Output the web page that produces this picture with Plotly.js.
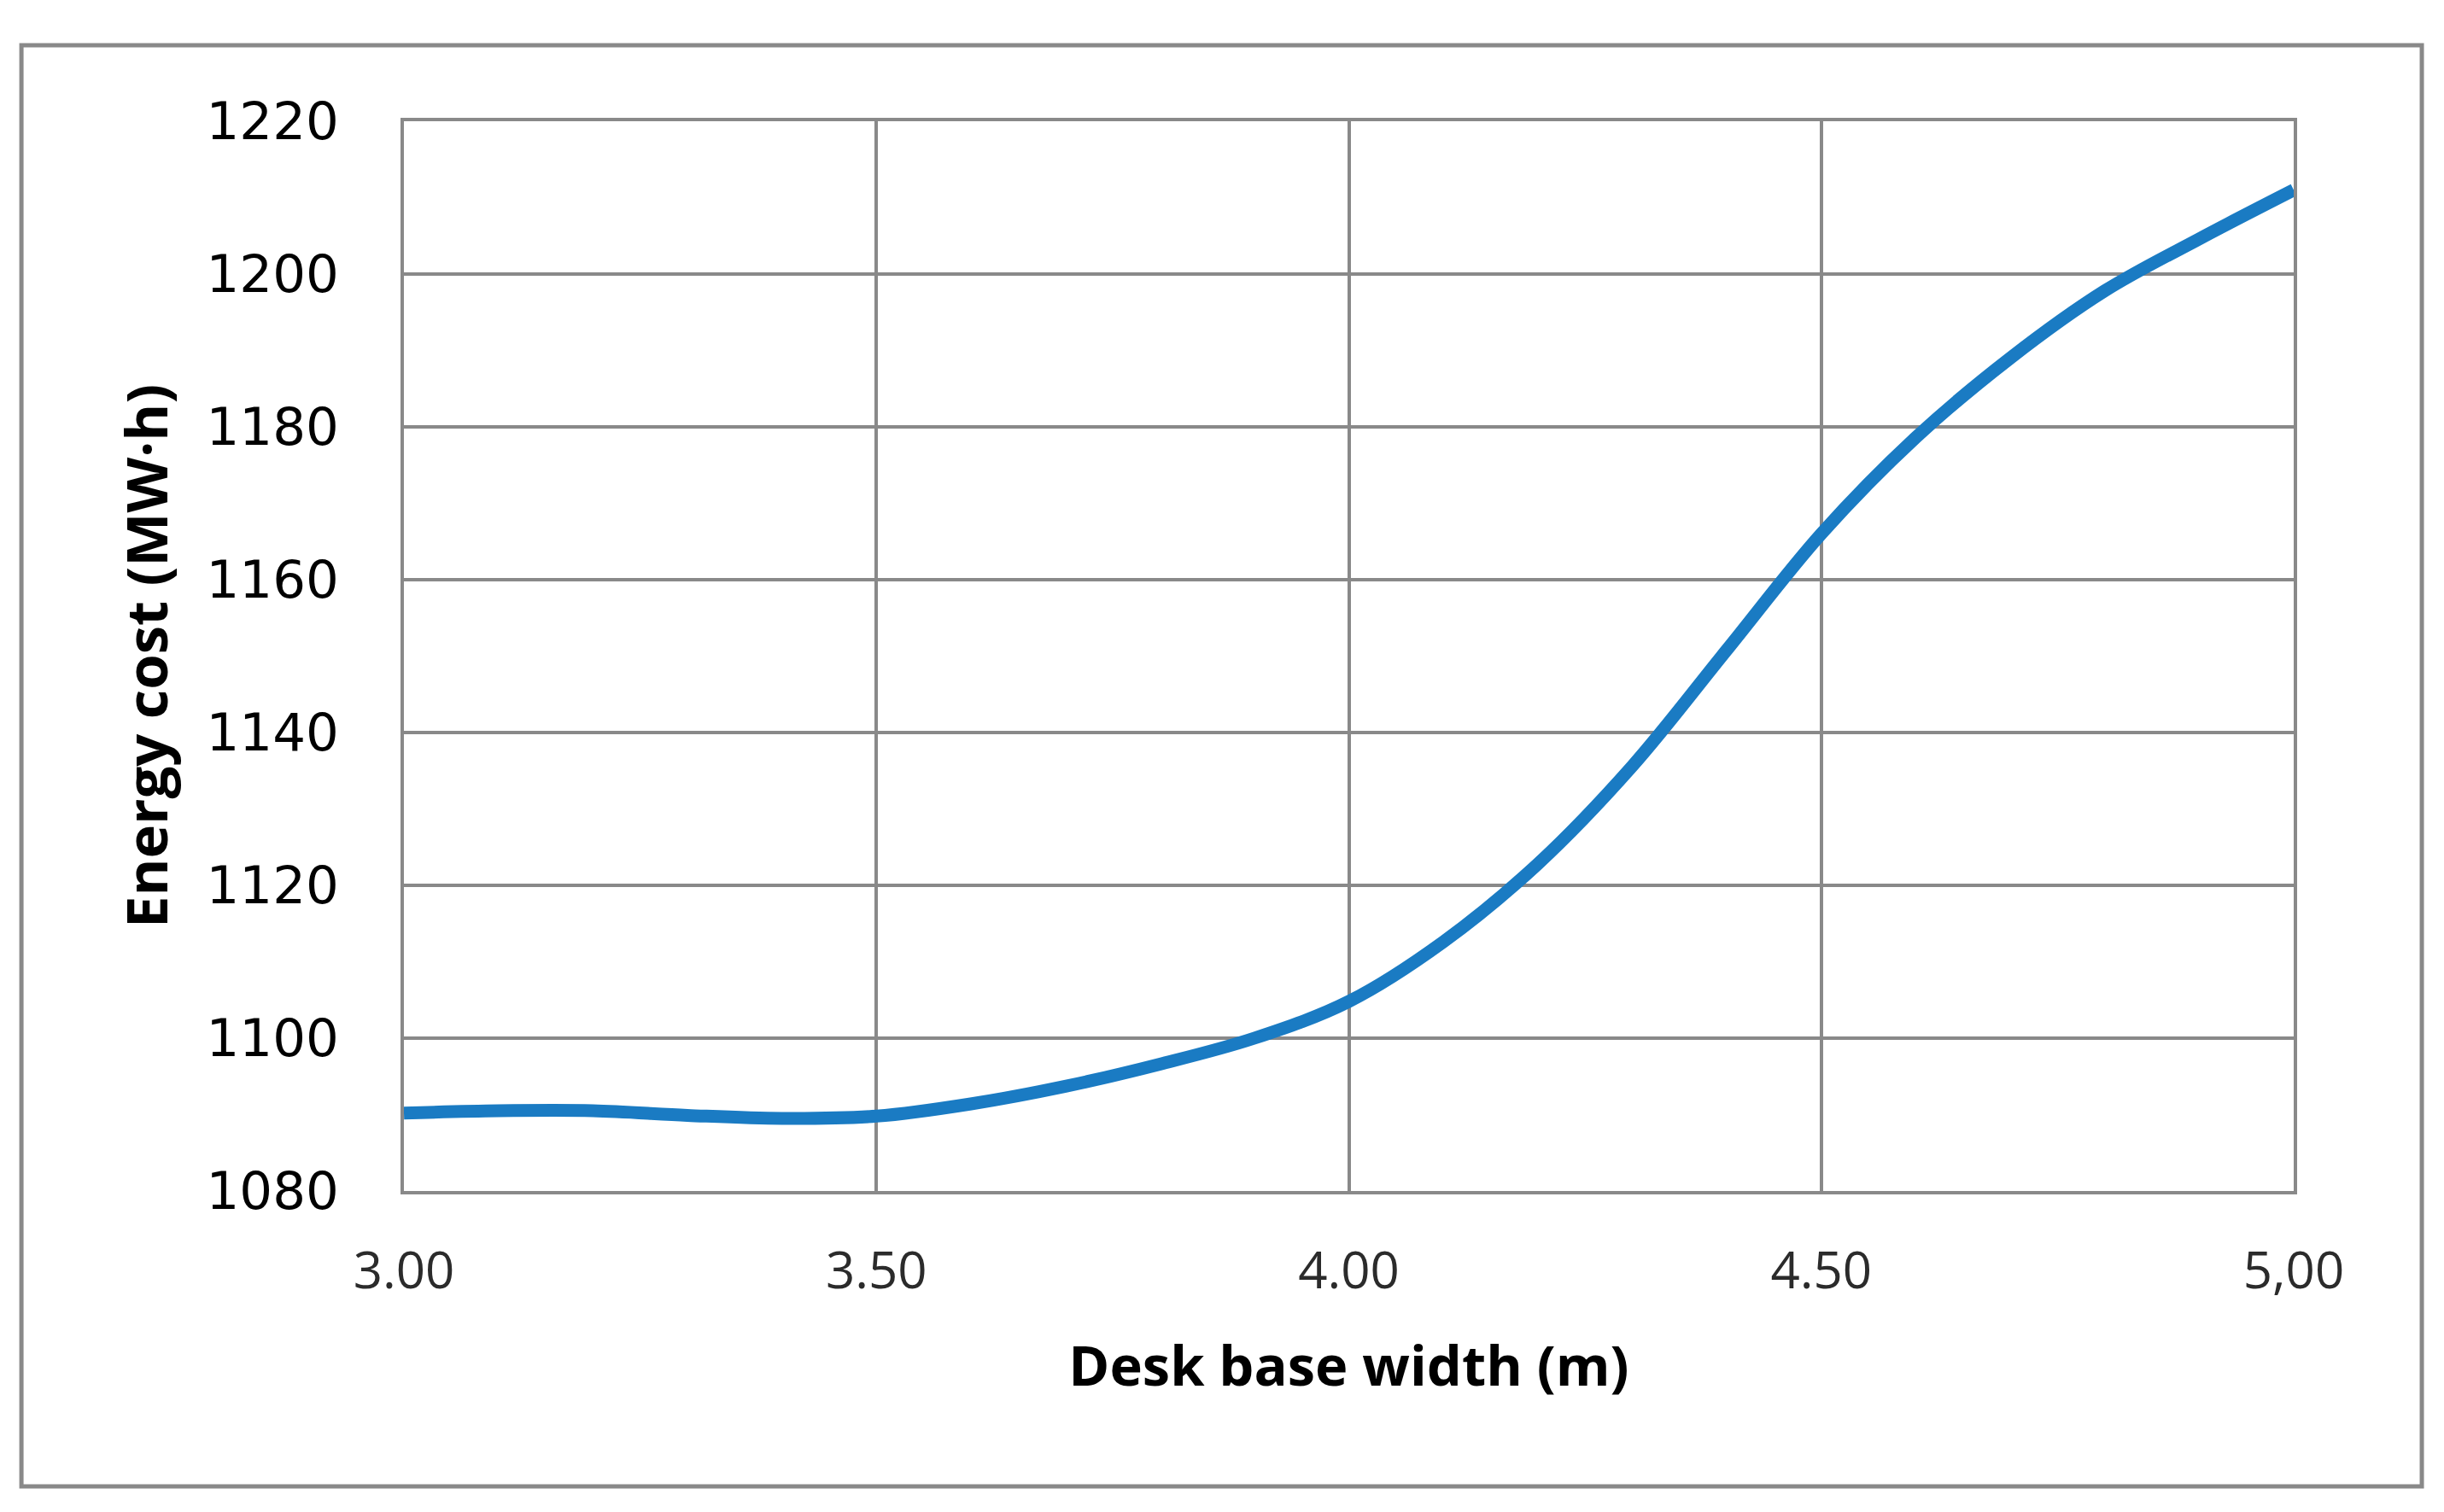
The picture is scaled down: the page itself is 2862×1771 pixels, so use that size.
<!DOCTYPE html>
<html>
<head>
<meta charset="utf-8">
<script src="https://cdn.plot.ly/plotly-3.0.1.min.js"></script>
<style>
  html, body { margin: 0; padding: 0; background: #ffffff; }
  #chart { width: 2862px; height: 1771px; }
</style>
</head>
<body>
<div id="chart"></div>
<script>
// values
const deskWidth = [3.0, 3.1, 3.2, 3.3, 3.4, 3.5, 3.6, 3.7, 3.8, 3.9, 4.0,
                   4.1, 4.2, 4.3, 4.4, 4.5, 4.6, 4.7, 4.8, 4.9, 5.0];
const energyCost = [1090.2, 1090.5, 1090.5, 1089.9, 1089.5, 1089.8, 1091.4, 1093.7, 1096.6, 1100.0, 1104.8,
                    1112.6, 1122.8, 1135.6, 1150.8, 1166.0, 1178.6, 1189.0, 1197.8, 1204.6, 1211.0];

const xTickVals = [3.0, 3.5, 4.0, 4.5, 5.0];
const xTickText = ['3.00', '3.50', '4.00', '4.50', '5,00'];
const yTickVals = [1080, 1100, 1120, 1140, 1160, 1180, 1200, 1220];

const gridGray = '#898989';

const trace = {
    x: deskWidth,
    y: energyCost,
    mode: 'lines',
    line: {shape: 'spline', smoothing: 1, color: '#1a7bc3', width: 15},
    hoverinfo: 'skip'
};

const layout = {
    width: 2862,
    height: 1771,
    paper_bgcolor: '#ffffff',
    plot_bgcolor: '#ffffff',
    showlegend: false,
    margin: {l: 473, r: 176, t: 142, b: 376},
    xaxis: {
        range: [3, 5],
        tickvals: xTickVals,
        ticktext: xTickText,
        showgrid: true,
        gridcolor: gridGray,
        gridwidth: 4,
        showline: true,
        mirror: true,
        linecolor: gridGray,
        linewidth: 4,
        zeroline: false,
        ticks: '',
        ticklabelstandoff: 38,
        tickfont: {family: 'Open Sans, sans-serif', size: 60, color: '#2b2b2b'},
        automargin: false,
        title: {
            text: 'Desk base width (m)',
            standoff: 52,
            font: {family: 'Open Sans, sans-serif', size: 65, color: '#000000', weight: 'bold'}
        }
    },
    yaxis: {
        range: [1080, 1220],
        tickvals: yTickVals,
        showgrid: true,
        gridcolor: gridGray,
        gridwidth: 4,
        showline: true,
        mirror: true,
        linecolor: gridGray,
        linewidth: 4,
        zeroline: false,
        ticks: '',
        ticklabelstandoff: 60,
        tickfont: {family: 'DejaVu Sans, sans-serif', size: 61, color: '#000000'},
        automargin: false,
        title: {
            text: 'Energy cost (MW·h)',
            standoff: 24,
            font: {family: 'Open Sans, sans-serif', size: 67, color: '#000000', weight: 'bold'}
        }
    },
    shapes: [{
        // outer chart frame
        type: 'rect',
        xref: 'paper', yref: 'paper',
        x0: -0.2024, x1: 1.0678,
        y0: -0.2761, y1: 1.0710,
        line: {color: gridGray, width: 5},
        fillcolor: 'rgba(0,0,0,0)',
        layer: 'below'
    }]
};

Plotly.newPlot('chart', [trace], layout, {staticPlot: true, displayModeBar: false});
</script>
</body>
</html>
